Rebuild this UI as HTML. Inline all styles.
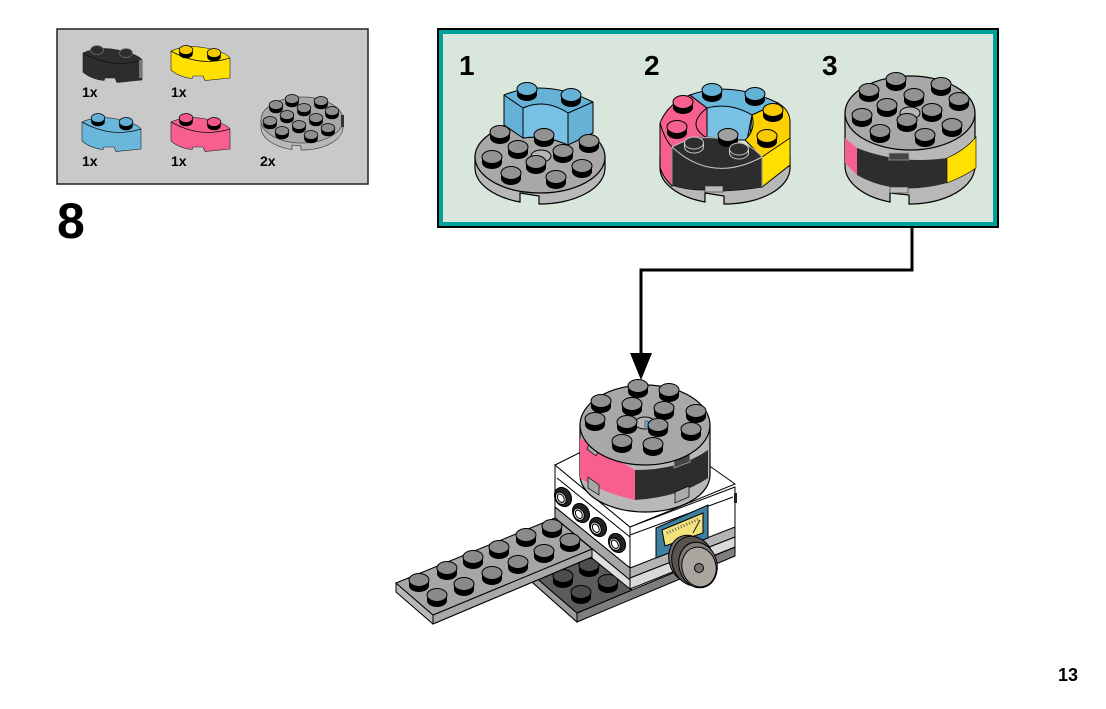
<!DOCTYPE html>
<html><head><meta charset="utf-8"><style>
html,body{margin:0;padding:0;background:#fff;width:1106px;height:709px;overflow:hidden}
svg{display:block}
text{font-family:"Liberation Sans",sans-serif;font-weight:bold;fill:#000}
</style></head><body>
<svg width="1106" height="709" viewBox="0 0 1106 709" xmlns="http://www.w3.org/2000/svg">
<defs>
<g id="S"><path d="M-10,0v5.500a10,6.500 0 0 0 20,0v-5.500z" fill="#000"/><ellipse rx="10" ry="6.500" stroke="#000" stroke-width="1"/></g>
<g id="s"><path d="M-6.800,0v3.800a6.800,4.500 0 0 0 13.600,0v-3.800z" fill="#000"/><ellipse rx="6.800" ry="4.500" stroke="#000" stroke-width=".8"/></g>
<g id="B"><path d="M0,0Q15,-7 35,-3T59,7V27L34,29.500 32,25 22,25 21,27.500Q8,26 0,19Z" stroke="#222" stroke-width=".6"/><path d="M0,0Q29,16.500 59,7" fill="none" stroke="#111" stroke-width=".8"/></g>
</defs>

<!-- parts panel -->
<rect x="57" y="29" width="311" height="155" fill="#c8c9c8" stroke="#222" stroke-width="1.5"/>
<use href="#B" x="83" y="53" fill="#2d2d2d"/><rect x="139" y="60" width="3" height="18" fill="#777"/>
<ellipse cx="97" cy="50" rx="6.500" ry="4.500" fill="#2d2d2d" stroke="#777" stroke-width=".7"/>
<ellipse cx="126" cy="53" rx="6.500" ry="4.500" fill="#2d2d2d" stroke="#777" stroke-width=".7"/>
<use href="#B" x="171" y="51" fill="#ffe000"/><use href="#s" x="186" y="50" fill="#f6c900"/><use href="#s" x="214" y="53" fill="#f6c900"/>
<use href="#B" x="82" y="122" fill="#6ab7dc"/><use href="#s" x="98" y="118" fill="#62aed4"/><use href="#s" x="126" y="122" fill="#62aed4"/>
<use href="#B" x="171" y="122" fill="#f75f8f"/><use href="#s" x="186" y="118" fill="#f0588a"/><use href="#s" x="214" y="122" fill="#f0588a"/>
<path d="M261,121V127A41,23 0 0 0 292,149.500V145L301,146V150A41,23 0 0 0 343,127V121Z" fill="#b9b9b9" stroke="#444" stroke-width=".7"/>
<ellipse cx="302" cy="120" rx="41" ry="23" fill="#a8a8a8" stroke="#444" stroke-width=".7"/>
<rect x="341" y="115" width="3" height="12" fill="#333"/>
<g fill="#8e8e8e"><use href="#s" x="292" y="99"/><use href="#s" x="321" y="101"/><use href="#s" x="276" y="105"/><use href="#s" x="304" y="108"/><use href="#s" x="332" y="111"/><use href="#s" x="287" y="115"/><use href="#s" x="316" y="118"/><use href="#s" x="270" y="121"/><use href="#s" x="299" y="125"/><use href="#s" x="328" y="128"/><use href="#s" x="282" y="131"/><use href="#s" x="311" y="135"/></g>
<g font-size="14"><text x="82" y="97">1x</text><text x="171" y="97">1x</text><text x="82" y="166">1x</text><text x="171" y="166">1x</text><text x="260" y="166">2x</text></g>
<text x="57" y="238" font-size="50">8</text>

<!-- step panel -->
<rect x="437" y="28" width="562" height="200" fill="#000"/>
<rect x="439" y="30" width="558" height="196" fill="#00a19a"/>
<rect x="443" y="34" width="550" height="188" fill="#d9e6dc"/>
<g font-size="28"><text x="459" y="75">1</text><text x="644" y="75">2</text><text x="822" y="75">3</text></g>

<!-- step 1 -->
<path d="M475,157V168A65,36 0 0 0 520,202V193L539,196V204A65,36 0 0 0 605,168V157Z" fill="#b8b8b8" stroke="#000" stroke-width="1.2"/>
<ellipse cx="540" cy="157" rx="65" ry="36" fill="#a8a8a8" stroke="#000" stroke-width="1.2"/>
<path d="M504,95Q545,78 593,102V133L568,145Q545,135 523,138L504,125Z" fill="#66b2d6" stroke="#000" stroke-width="1"/>
<path d="M523,108Q545,98 568,113V145Q545,135 523,138Z" fill="#78c1e4" stroke="#000" stroke-width="1"/>
<path d="M504,95L523,108M568,113L593,102" stroke="#000" stroke-width="1" fill="none"/>
<g fill="#66b2d6"><use href="#S" x="527" y="89"/><use href="#S" x="571" y="95"/></g>
<ellipse cx="541" cy="156" rx="10" ry="6" fill="#b5b5b5" stroke="#000"/>
<g fill="#929292"><use href="#S" x="500" y="132"/><use href="#S" x="544" y="135"/><use href="#S" x="589" y="141"/><use href="#S" x="518" y="147"/><use href="#S" x="563" y="151"/><use href="#S" x="492" y="157"/><use href="#S" x="536" y="162"/><use href="#S" x="582" y="166"/><use href="#S" x="511" y="173"/><use href="#S" x="556" y="177"/></g>

<!-- step 2 -->
<path d="M660,157V168A65,36 0 0 0 705,202V193L724,196V204A65,36 0 0 0 790,168V157Z" fill="#b8b8b8" stroke="#000" stroke-width="1.2"/>
<path d="M660,123Q668,103 690,95L707,108V138L672,147V186Q662,176 660,167Z" fill="#f75f8f" stroke="#000" stroke-width="1"/>
<path d="M660,123Q665,140 672,147M707,108Q685,125 707,138" fill="none" stroke="#000"/>
<path d="M690,95Q730,80 778,103L752,115L750,138H707V108Z" fill="#6ab7dc" stroke="#000" stroke-width="1"/>
<path d="M707,108Q730,102 752,115L747,140H707Z" fill="#78c1e4" stroke="#000" stroke-width="1"/>
<path d="M778,103Q790,110 790,122V165L762,187V157L745,140Q756,130 752,115Z" fill="#ffd000" stroke="#000" stroke-width="1"/>
<path d="M790,138V165L762,187V157Z" fill="#ffe000" stroke="#000" stroke-width=".8"/>
<path d="M672,147Q695,132 725,139Q750,142 762,157Q712,184 672,147Z" fill="#2d2d2d"/>
<path d="M672,147Q712,184 762,157V187Q745,190 723,191V186H705V190Q685,190 672,185Z" fill="#2d2d2d" stroke="#111" stroke-width=".8"/>
<path d="M672,147Q695,134 725,139Q750,142 762,157Q712,184 672,147" fill="none" stroke="#c9c9c9"/>
<path d="M762,157V187M672,147V185" stroke="#c9c9c9" fill="none" stroke-width=".7"/>
<rect x="705" y="186" width="18" height="6" fill="#bbb" stroke="#333" stroke-width=".6"/>
<use href="#S" x="728" y="135" fill="#a0a0a0"/>
<g fill="#2d2d2d" stroke="#c9c9c9"><ellipse cx="694" cy="143" rx="9.500" ry="6"/><path d="M684.500,143v4a9.500,6 0 0 0 19,0v-4" fill="none"/><ellipse cx="739" cy="149" rx="9.500" ry="6"/><path d="M729.500,149v4a9.500,6 0 0 0 19,0v-4" fill="none"/></g>
<g fill="#66b2d6"><use href="#S" x="712" y="90"/><use href="#S" x="755" y="94"/></g>
<g fill="#f75f8f"><use href="#S" x="683" y="102"/><use href="#S" x="677" y="127"/></g>
<g fill="#f6c900"><use href="#S" x="773" y="110"/><use href="#S" x="767" y="136"/></g>

<!-- step 3 -->
<path d="M845,113V166A65,38 0 0 0 890,202V193L909,195V204A65,38 0 0 0 975,166V113Z" fill="#b8b8b8" stroke="#000" stroke-width="1.2"/>
<path d="M845,138L857,148V175L845,163Z" fill="#f75f8f"/>
<path d="M857,148Q900,165 947,158V183Q895,197 857,175Z" fill="#2d2d2d"/>
<path d="M947,158Q965,150 976,137V168Q965,176 947,183Z" fill="#ffe000" stroke="#000" stroke-width=".6"/>
<rect x="889" y="153" width="20" height="7" fill="#444" stroke="#999" stroke-width=".8"/>
<rect x="890" y="187" width="18" height="6" fill="#bbb" stroke="#333" stroke-width=".6"/>
<ellipse cx="910" cy="113" rx="65" ry="37" fill="#a8a8a8" stroke="#000" stroke-width="1.2"/>
<ellipse cx="910" cy="113" rx="10" ry="6" fill="#b5b5b5" stroke="#000"/>
<g fill="#929292"><use href="#S" x="896" y="79"/><use href="#S" x="941" y="84"/><use href="#S" x="869" y="90"/><use href="#S" x="914" y="95"/><use href="#S" x="959" y="99"/><use href="#S" x="887" y="105"/><use href="#S" x="932" y="110"/><use href="#S" x="862" y="115"/><use href="#S" x="907" y="120"/><use href="#S" x="952" y="125"/><use href="#S" x="880" y="131"/><use href="#S" x="925" y="135"/></g>

<!-- connector -->
<path d="M912,227V270H641V356" fill="none" stroke="#000" stroke-width="3"/>
<path d="M630,353H652L641,380Z" fill="#000"/>

<!-- lower dark plate -->
<path d="M533,583L577,622L735,556V547L577,613Z" fill="#7e7e7e" stroke="#000" stroke-width="1"/>
<path d="M533,575L577,613V622L533,583Z" fill="#9c9c9c" stroke="#000" stroke-width="1"/>
<path d="M533,575L577,613L632,590L575,545Z" fill="#5c5c5c" stroke="#000" stroke-width="1"/>
<g fill="#4d4d4d"><use href="#S" x="589" y="565"/><use href="#S" x="563" y="576"/><use href="#S" x="608" y="581"/><use href="#S" x="581" y="592"/></g>

<!-- box -->
<path d="M555,465L630,527V568L555,507Z" fill="#fff" stroke="#000" stroke-width="1"/>
<path d="M557,478L630,537" stroke="#000" fill="none"/>
<path d="M555,507L630,568V580L555,518Z" fill="#a6a6a6" stroke="#000" stroke-width="1"/>
<path d="M555,518L630,580V589L555,528Z" fill="#ddd" stroke="#000" stroke-width="1"/>
<path d="M630,527L735,487V547L630,589Z" fill="#fff" stroke="#000" stroke-width="1"/>
<path d="M630,568L735,527V537L630,578Z" fill="#b4b4b4" stroke="#000" stroke-width="1"/>
<path d="M630,578L735,537V547L630,589Z" fill="#dadada" stroke="#000" stroke-width="1"/>
<path d="M555,465L595,445H680L735,484L630,527Z" fill="#fff" stroke="#000" stroke-width="1"/>
<path d="M630,535L733,497" stroke="#000" fill="none"/>
<rect x="734" y="493" width="3" height="10" fill="#222"/>
<!-- knobs -->
<g stroke="#000">
<g transform="translate(563,497) rotate(-30)"><ellipse rx="8" ry="10" fill="#222"/><ellipse cx="-2.500" rx="5" ry="6.500" fill="#ddd"/><ellipse cx="-2.500" rx="3" ry="4.500" fill="#fff"/></g>
<g transform="translate(581,513) rotate(-30)"><ellipse rx="8" ry="10" fill="#222"/><ellipse cx="-2.500" rx="5" ry="6.500" fill="#ddd"/><ellipse cx="-2.500" rx="3" ry="4.500" fill="#fff"/></g>
<g transform="translate(598,527) rotate(-30)"><ellipse rx="8" ry="10" fill="#222"/><ellipse cx="-2.500" rx="5" ry="6.500" fill="#ddd"/><ellipse cx="-2.500" rx="3" ry="4.500" fill="#fff"/></g>
<g transform="translate(617,543) rotate(-30)"><ellipse rx="8" ry="10" fill="#222"/><ellipse cx="-2.500" rx="5" ry="6.500" fill="#ddd"/><ellipse cx="-2.500" rx="3" ry="4.500" fill="#fff"/></g>
</g>
<!-- meter -->
<path d="M656,528L708,505V538L656,558Z" fill="#3f7f9f" stroke="#000"/>
<path d="M662,530L703,513V533L665,546Z" fill="#f3e27a" stroke="#000"/>
<path d="M667,533L699,519" stroke="#666" stroke-width="3" stroke-dasharray="1 2" fill="none"/>
<path d="M693,533L700,520" stroke="#222" fill="none"/>
<!-- dial -->
<ellipse cx="689" cy="559" rx="20" ry="24" fill="#6f6b66" stroke="#000" transform="rotate(-15 689 559)"/>
<ellipse cx="693" cy="561" rx="21" ry="25" fill="#57534f" stroke="#000" transform="rotate(-15 693 561)"/>
<ellipse cx="698" cy="565" rx="19" ry="23" fill="#7c7873" stroke="#000" transform="rotate(-15 698 565)"/>
<ellipse cx="699" cy="567" rx="17" ry="20" fill="#aaa59f" stroke="#000" transform="rotate(-15 699 567)"/>
<ellipse cx="699" cy="568" rx="4.500" ry="4.500" fill="#77736e" stroke="#000"/>

<!-- long plate -->
<path d="M396,583V592L433,624L592,557V549L433,615Z" fill="#b9b9b9" stroke="#000" stroke-width="1"/>
<path d="M433,615V624L592,557V549Z" fill="#a8a8a8" stroke="#000" stroke-width="1"/>
<path d="M396,583L555,518L592,549L433,615Z" fill="#a6a6a6" stroke="#000" stroke-width="1"/>
<g fill="#8a8a8a"><use href="#S" x="419" y="580"/><use href="#S" x="447" y="568"/><use href="#S" x="473" y="557"/><use href="#S" x="499" y="547"/><use href="#S" x="526" y="535"/><use href="#S" x="552" y="526"/><use href="#S" x="437" y="595"/><use href="#S" x="464" y="584"/><use href="#S" x="492" y="573"/><use href="#S" x="518" y="562"/><use href="#S" x="544" y="551"/><use href="#S" x="570" y="540"/></g>

<!-- main round -->
<path d="M580,425V475A65,37 0 0 0 710,475V425Z" fill="#b8b8b8" stroke="#000" stroke-width="1.2"/>
<path d="M580,438L635,470V500Q600,492 580,478Z" fill="#f75f8f"/>
<path d="M635,470Q680,470 708,450V478Q680,497 635,500Z" fill="#2d2d2d"/>
<path d="M590,442L599,450 596,456 587,449Z M588,477L599,485V495L588,488Z" fill="#a8a8a8" stroke="#000" stroke-width=".7"/>
<path d="M674,460L690,454V462L674,468Z" fill="#444" stroke="#aaa" stroke-width=".7"/>
<path d="M675,492L689,486V497L675,503Z" fill="#aaa" stroke="#000" stroke-width=".7"/>
<ellipse cx="645" cy="425" rx="65" ry="40" fill="#a8a8a8" stroke="#000" stroke-width="1.2"/>
<ellipse cx="645" cy="423" rx="10" ry="6" fill="#b5b5b5" stroke="#000"/>
<rect x="645" y="421" width="3" height="6" fill="#7bb5d5" stroke="#124" stroke-width=".5"/>
<g fill="#929292"><use href="#S" x="638" y="386"/><use href="#S" x="669" y="390"/><use href="#S" x="601" y="401"/><use href="#S" x="632" y="404"/><use href="#S" x="664" y="408"/><use href="#S" x="696" y="411"/><use href="#S" x="595" y="419"/><use href="#S" x="627" y="422"/><use href="#S" x="658" y="425"/><use href="#S" x="691" y="429"/><use href="#S" x="622" y="441"/><use href="#S" x="653" y="444"/></g>

<text x="1058" y="681" font-size="18">13</text>
</svg>
</body></html>
